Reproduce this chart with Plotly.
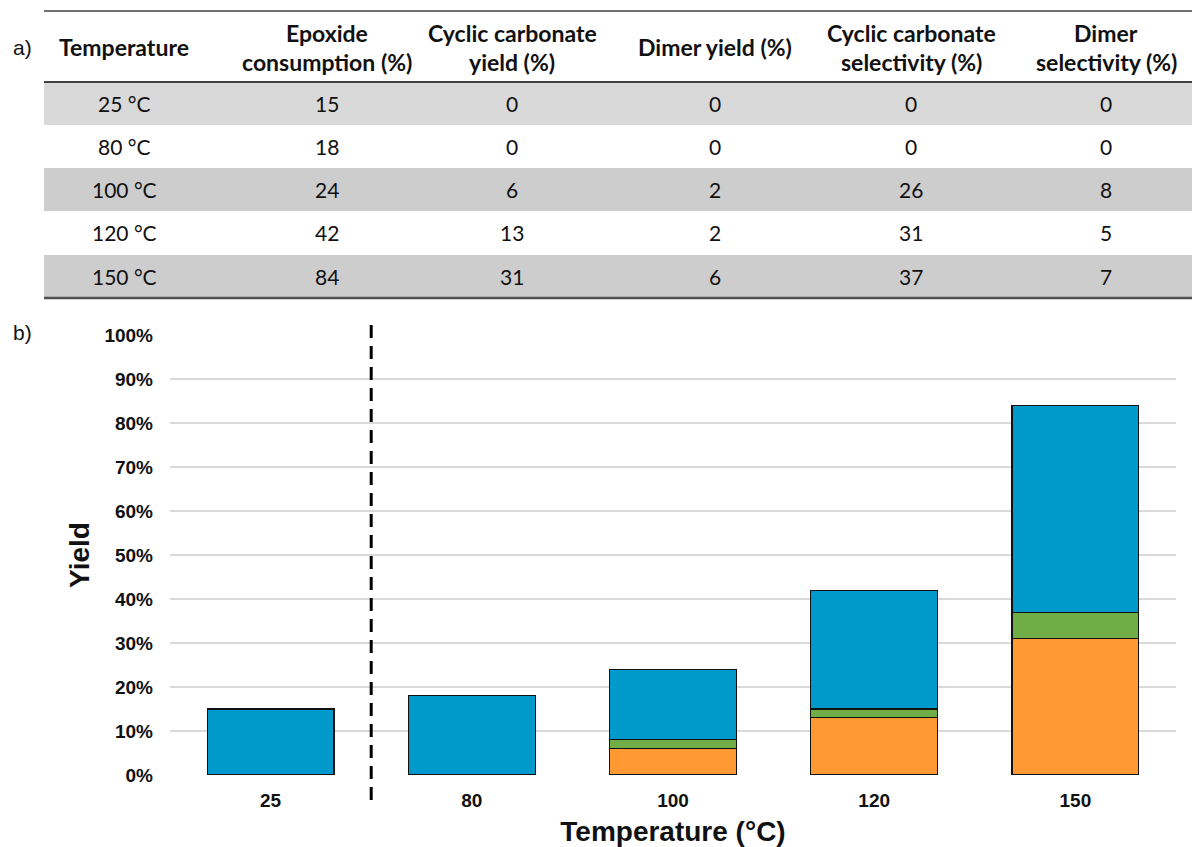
import plotly.graph_objects as go

# ---- data ----
temperatures = ["25", "80", "100", "120", "150"]
temp_labels = ["25 °C", "80 °C", "100 °C", "120 °C", "150 °C"]
epoxide_consumption = [15, 18, 24, 42, 84]
cyclic_carbonate_yield = [0, 0, 6, 13, 31]
dimer_yield = [0, 0, 2, 2, 6]
cyclic_carbonate_selectivity = [0, 0, 26, 31, 37]
dimer_selectivity = [0, 0, 8, 5, 7]

header_lines = [
    ["Temperature"],
    ["Epoxide", "consumption (%)"],
    ["Cyclic carbonate", "yield (%)"],
    ["Dimer yield (%)"],
    ["Cyclic carbonate", "selectivity (%)"],
    ["Dimer", "selectivity (%)"],
]

# ---- page geometry (pixels) ----
W_PX, H_PX = 1192, 847
L, R, T, B = 170, 16, 335, 72
PW = W_PX - L - R
PH = H_PX - T - B


def px_x(px):
    return (px - L) / PW


def px_y(py):
    return (H_PX - B - py) / PH


BLUE = "#0099CC"
GREEN = "#70AD47"
ORANGE = "#FF9933"

unreacted = [c - y - d for c, y, d in zip(epoxide_consumption, cyclic_carbonate_yield, dimer_yield)]


def nz(vals):
    return [v if v else None for v in vals]


fig = go.Figure()
for name, vals, col in [
    ("Cyclic carbonate", nz(cyclic_carbonate_yield), ORANGE),
    ("Dimer", nz(dimer_yield), GREEN),
    ("Other", unreacted, BLUE),
]:
    fig.add_trace(go.Bar(
        x=temperatures, y=vals, name=name,
        marker=dict(color=col, line=dict(color="#111111", width=1.2)),
        hoverinfo="skip",
    ))

shapes = []
annotations = []

# ---- table (panel a) ----
tab_left, tab_right = 44, 1192
col_centers = [124, 327, 512, 715, 911, 1106]
row_edges = [82, 125, 168, 211, 255, 298]
row_fills = ["#D9D9D9", None, "#CDCDCD", None, "#CDCDCD"]

for i, fill in enumerate(row_fills):
    if fill:
        shapes.append(dict(
            type="rect", xref="paper", yref="paper",
            x0=px_x(tab_left), x1=px_x(tab_right),
            y0=px_y(row_edges[i + 1]), y1=px_y(row_edges[i]),
            fillcolor=fill, line=dict(width=0), layer="below",
        ))

for py, w, c in [(11, 1.5, "#404040"), (82, 2, "#404040"), (298, 2.5, "#505050")]:
    shapes.append(dict(
        type="line", xref="paper", yref="paper",
        x0=px_x(tab_left), x1=px_x(tab_right), y0=px_y(py), y1=px_y(py),
        line=dict(color=c, width=w),
    ))

TAB_FONT = "Lato, 'Noto Sans', sans-serif"
for cx, lines in zip(col_centers, header_lines):
    ys = [47] if len(lines) == 1 else [33, 62]
    for text, py in zip(lines, ys):
        annotations.append(dict(
            x=px_x(cx), y=px_y(py), xref="paper", yref="paper",
            text=f"<b>{text}</b>", showarrow=False,
            xanchor="center", yanchor="middle",
            font=dict(family=TAB_FONT, size=23, color="#111111"),
        ))

columns = [temp_labels, epoxide_consumption, cyclic_carbonate_yield, dimer_yield,
           cyclic_carbonate_selectivity, dimer_selectivity]
for cx, col in zip(col_centers, columns):
    for r, val in enumerate(col):
        py = (row_edges[r] + row_edges[r + 1]) / 2
        annotations.append(dict(
            x=px_x(cx), y=px_y(py), xref="paper", yref="paper",
            text=str(val), showarrow=False,
            xanchor="center", yanchor="middle",
            font=dict(family=TAB_FONT, size=21, color="#111111"),
        ))

# panel labels
for text, py in [("a)", 47), ("b)", 333)]:
    annotations.append(dict(
        x=px_x(22), y=px_y(py), xref="paper", yref="paper",
        text=text, showarrow=False, xanchor="center", yanchor="middle",
        font=dict(family="Arial, 'Liberation Sans', sans-serif", size=21, color="#111111"),
    ))

# dashed separator between 25 °C and the heated runs
shapes.append(dict(
    type="line", xref="x", yref="paper",
    x0=0.5, x1=0.5, y0=px_y(800), y1=px_y(318),
    line=dict(color="black", width=3, dash="13px,8px"),
))

AX_FONT = "Arial, 'Liberation Sans', sans-serif"
fig.update_layout(
    width=W_PX, height=H_PX,
    margin=dict(l=L, r=R, t=T, b=B, autoexpand=False),
    paper_bgcolor="white", plot_bgcolor="white",
    barmode="stack", bargap=0.37,
    showlegend=False,
    shapes=shapes, annotations=annotations,
    xaxis=dict(
        type="category", categoryorder="array", categoryarray=temperatures,
        showgrid=False, zeroline=False, showline=False, automargin=False,
        tickfont=dict(family=AX_FONT, size=19, color="#111111", weight="bold"),
        ticklabelstandoff=12,
        title=dict(text="<b>Temperature (°C)</b>", standoff=12,
                   font=dict(family=AX_FONT, size=28, color="#111111")),
    ),
    yaxis=dict(
        range=[0, 100], dtick=10, ticksuffix="%",
        showgrid=True, gridcolor="#D9D9D9", gridwidth=1.5,
        zeroline=False, showline=False, automargin=False,
        tickfont=dict(family=AX_FONT, size=19, color="#111111", weight="bold"),
        ticklabelstandoff=16,
        title=dict(text="<b>Yield</b>", standoff=6,
                   font=dict(family=AX_FONT, size=28, color="#111111")),
    ),
)

fig.write_html("out.html")
